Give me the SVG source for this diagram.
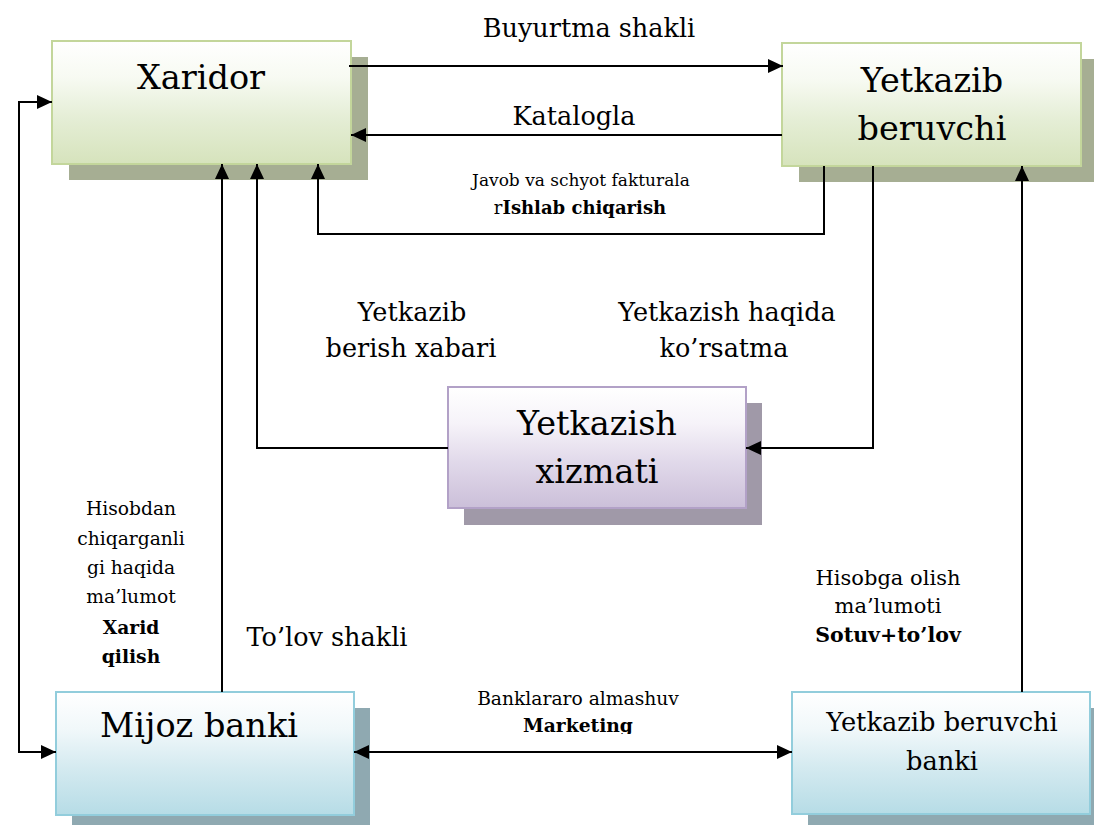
<svg xmlns="http://www.w3.org/2000/svg" width="1094" height="825" viewBox="0 0 1094 825">
  <defs>
    <linearGradient id="gGreen" x1="0" y1="0" x2="0" y2="1">
      <stop offset="0" stop-color="#ffffff"/>
      <stop offset="0.3" stop-color="#f7faf2"/>
      <stop offset="0.62" stop-color="#e5eed6"/>
      <stop offset="1" stop-color="#d6e3bc"/>
    </linearGradient>
    <linearGradient id="gPurple" x1="0" y1="0" x2="0" y2="1">
      <stop offset="0" stop-color="#ffffff"/>
      <stop offset="0.3" stop-color="#f6f3f9"/>
      <stop offset="0.62" stop-color="#e1d9ea"/>
      <stop offset="1" stop-color="#cbbfd9"/>
    </linearGradient>
    <linearGradient id="gBlue" x1="0" y1="0" x2="0" y2="1">
      <stop offset="0" stop-color="#ffffff"/>
      <stop offset="0.3" stop-color="#f1f8fa"/>
      <stop offset="0.62" stop-color="#d4eaf0"/>
      <stop offset="1" stop-color="#b6dce6"/>
    </linearGradient>
    <marker id="arrow" viewBox="0 0 15 14" refX="15" refY="7" markerWidth="15" markerHeight="14" markerUnits="userSpaceOnUse" orient="auto-start-reverse">
      <path d="M0,0 L15,7 L0,14 Z" fill="#000"/>
    </marker>
    <clipPath id="clipMarketing">
      <rect x="400" y="680" width="360" height="54"/>
    </clipPath>
  </defs>
  <style>
    .box { stroke-width: 2; }
    .green { fill: url(#gGreen); stroke: #c3d69b; }
    .purple { fill: url(#gPurple); stroke: #b2a1c7; }
    .blue { fill: url(#gBlue); stroke: #92cddc; }
    .shGreen { fill: #a6ae93; }
    .shPurple { fill: #a099a8; }
    .shBlue { fill: #8fa9b1; }
    text { fill: #000; text-anchor: middle; }
    .big { font-size: 33.5px; }
    .mid { font-size: 25.7px; }
    .lab { font-size: 25.5px; }
    .small { font-size: 18.7px; }
    .note { font-size: 21px; }
    .b { font-weight: bold; }
    .conn { fill: none; stroke: #000; stroke-width: 2; }
  </style>

  <rect width="1094" height="825" fill="#ffffff"/>

  <g font-family="DejaVu Serif, serif">
  <!-- Xaridor -->
  <g id="xaridor">
    <rect class="shGreen" x="69" y="57" width="299" height="123"/>
    <rect class="box green" x="52" y="41" width="299" height="123"/>
    <text class="big" x="201" y="89">Xaridor</text>
  </g>

  <!-- Yetkazib beruvchi -->
  <g id="yetkazib-beruvchi">
    <rect class="shGreen" x="799" y="59" width="299" height="123"/>
    <rect class="box green" x="782" y="43" width="299" height="123"/>
    <text class="big" x="932" y="92">Yetkazib</text>
    <text class="big" x="932" y="140">beruvchi</text>
  </g>

  <!-- Yetkazish xizmati -->
  <g id="yetkazish-xizmati">
    <rect class="shPurple" x="464" y="403" width="298" height="122"/>
    <rect class="box purple" x="448" y="387" width="298" height="121"/>
    <text class="big" x="597" y="435">Yetkazish</text>
    <text class="big" x="597" y="483">xizmati</text>
  </g>

  <!-- Mijoz banki -->
  <g id="mijoz-banki">
    <rect class="shBlue" x="72" y="708" width="298" height="117"/>
    <rect class="box blue" x="56" y="692" width="298" height="123"/>
    <text class="big" x="199" y="737">Mijoz banki</text>
  </g>

  <!-- Yetkazib beruvchi banki -->
  <g id="yetkazib-beruvchi-banki">
    <rect class="shBlue" x="808" y="708" width="298" height="117"/>
    <rect class="box blue" x="792" y="692" width="298" height="122"/>
    <text class="mid" x="942" y="731">Yetkazib beruvchi</text>
    <text class="mid" x="942" y="770">banki</text>
  </g>

  <!-- Connectors -->
  <g id="connectors">
    <path class="conn" d="M349,66 H783" marker-end="url(#arrow)"/>
    <path class="conn" d="M782,135 H351" marker-end="url(#arrow)"/>
    <path class="conn" d="M824,166 V234 H318 V164" marker-end="url(#arrow)"/>
    <path class="conn" d="M448,448 H257 V164" marker-end="url(#arrow)"/>
    <path class="conn" d="M873,166 V448 H746" marker-end="url(#arrow)"/>
    <path class="conn" d="M222,692 V164" marker-end="url(#arrow)"/>
    <path class="conn" d="M52,102 H19 V752 H56" marker-start="url(#arrow)" marker-end="url(#arrow)"/>
    <path class="conn" d="M354,752 H792" marker-start="url(#arrow)" marker-end="url(#arrow)"/>
    <path class="conn" d="M1022,692 V166" marker-end="url(#arrow)"/>
  </g>

  <!-- Connector labels -->
  <g id="labels">
    <text class="lab" x="589" y="37">Buyurtma shakli</text>
    <text class="lab" x="574" y="125">Katalogla</text>
    <text font-size="17" x="581" y="186">Javob va schyot fakturala</text>
    <text font-size="18" x="580" y="214">r<tspan class="b">Ishlab chiqarish</tspan></text>
    <text class="lab" x="412" y="321">Yetkazib</text>
    <text class="lab" x="411" y="357">berish xabari</text>
    <text class="lab" x="727" y="321">Yetkazish haqida</text>
    <text class="lab" x="724" y="357">ko’rsatma</text>
    <text class="small" x="131" y="515">Hisobdan</text>
    <text class="small" x="131" y="545">chiqarganli</text>
    <text class="small" x="131" y="574">gi haqida</text>
    <text class="small" x="131" y="603">ma’lumot</text>
    <text class="small b" x="131" y="634">Xarid</text>
    <text class="small b" x="131" y="663">qilish</text>
    <text class="lab" x="327" y="646">To’lov shakli</text>
    <text class="note" x="888" y="585">Hisobga olish</text>
    <text class="note" x="888" y="613">ma’lumoti</text>
    <text class="b" font-size="20.5" x="888" y="642">Sotuv+to’lov</text>
    <text class="small" x="578" y="705">Banklararo almashuv</text>
    <text class="small b" x="578" y="732" clip-path="url(#clipMarketing)">Marketing</text>
  </g>
  </g>
</svg>
